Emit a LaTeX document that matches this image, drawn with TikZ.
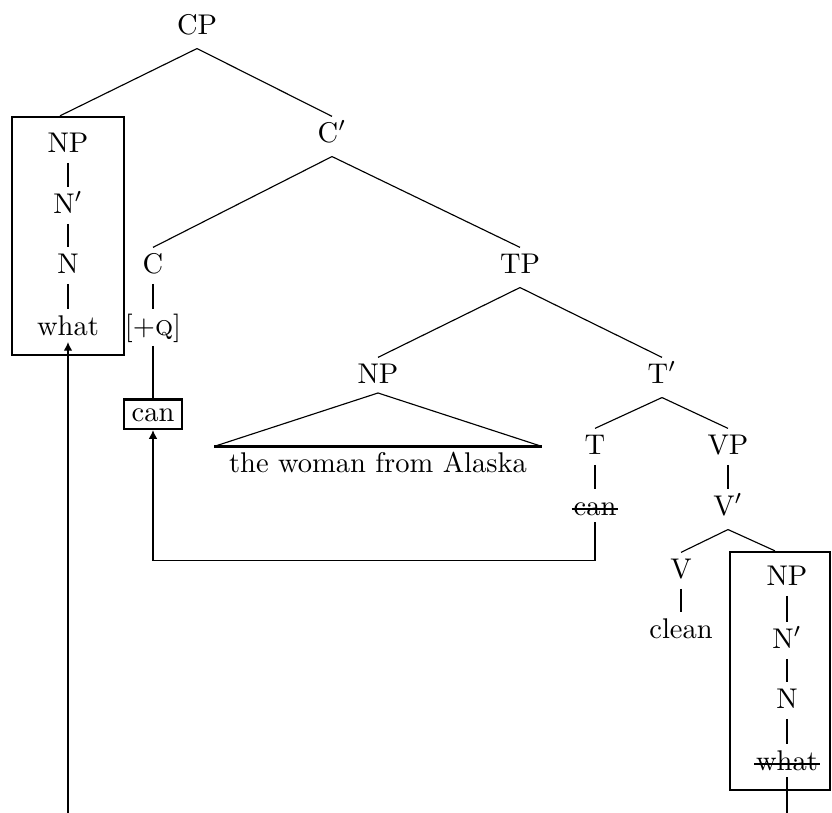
\documentclass[tikz,border=0pt]{standalone}
\usetikzlibrary{arrows.meta,fit}
\begin{document}
\begin{tikzpicture}[x=0.351pt,y=-0.351pt,
  lbl/.style={anchor=base, inner xsep=0.5pt, inner ysep=2pt, text height=6.8pt, text depth=2.9pt},
  branch/.style={line width=0.4pt},
  unary/.style={line width=0.75pt, shorten <=-1.3pt},
  frame/.style={draw, line width=0.85pt, inner sep=0pt},
  strike/.style={line width=0.7pt},
  move/.style={line width=0.38pt, -{Latex[length=3pt,width=3pt]}},
  roof/.style={line width=0.4pt},
  roofbase/.style={line width=0.9pt}]
\useasboundingbox (0,0) rectangle (832,812);
\clip (0,0) rectangle (832,812);

% top of the tree
\node[lbl] (cp) at (197,34) {CP};
\node[lbl] (cbar) at (332,142) {C$'$};

% fronted wh-phrase
\node[lbl] (np1) at (68,152) {NP};
\node[lbl] (nb1) at (68,213) {N$'$};
\node[lbl] (n1) at (68,273) {N};
\node[lbl] (what1) at (68,335) {what};
\node[frame, fit={(12,117) (124,355)}] (box1) {};

% complementizer
\node[lbl] (c) at (153,273) {C};
\node[lbl] (q) at (153,335) {[+\textsc{q}]};
\node[frame, anchor=base, inner xsep=2.6pt, inner ysep=1.3pt, text height=6.2pt, text depth=1.5pt] (can1) at (153,421) {can};

% TP
\node[lbl] (tp) at (520,273) {TP};
\node[lbl] (np2) at (378,383) {NP};
\node[lbl] (alaska) at (378,472) {the woman from Alaska};
\node[lbl] (tbar) at (662,383) {T$'$};
\node[lbl] (t) at (595,454) {T};
\node[lbl] (can2) at (595,515) {can};

% VP
\node[lbl] (vp) at (728,454) {VP};
\node[lbl] (vbar) at (728,515) {V$'$};
\node[lbl] (v) at (681,578) {V};
\node[lbl] (clean) at (681,638) {clean};
\node[lbl] (np3) at (787,585) {NP};
\node[lbl] (nb3) at (787,648) {N$'$};
\node[lbl] (n3) at (787,708) {N};
\node[lbl] (what3) at (787,770) {what};
\node[frame, fit={(730,552) (830,790)}] (box2) {};

% branching edges
\draw[branch] (cp.south) -- ([xshift=-2.8pt]box1.north);
\draw[branch] (cp.south) -- (cbar.north);
\draw[branch] (cbar.south) -- (c.north);
\draw[branch] (cbar.south) -- (tp.north);
\draw[branch] (tp.south) -- (np2.north);
\draw[branch] (tp.south) -- (tbar.north);
\draw[branch] (tbar.south) -- (t.north);
\draw[branch] (tbar.south) -- (vp.north);
\draw[branch] (vbar.south) -- (v.north);
\draw[branch] (vbar.south) -- ([xshift=-1.8pt]box2.north);

% non-branching edges
\draw[unary] (np1.south) -- (nb1.north);
\draw[unary] (nb1.south) -- (n1.north);
\draw[unary] (n1.south) -- (what1.north);
\draw[unary] (c.south) -- (q.north);
\draw[unary] (q.south) -- (can1.north);
\draw[unary] (t.south) -- (can2.north);
\draw[unary] (vp.south) -- (vbar.north);
\draw[unary] (v.south) -- (clean.north);
\draw[unary] (np3.south) -- (nb3.north);
\draw[unary] (nb3.south) -- (n3.north);
\draw[unary] (n3.south) -- (what3.north);

% roof over the subject
\coordinate (apex) at ([yshift=-3.5pt]np2.base);
\draw[roof] ([xshift=-4.5pt]alaska.north west) -- (apex) -- ([xshift=4.5pt]alaska.north east);
\draw[roofbase] ([xshift=-4.5pt]alaska.north west) -- ([xshift=4.5pt]alaska.north east);

% deleted copies
\draw[strike] ([yshift=2.1pt]can2.base west) -- ([yshift=2.1pt]can2.base east);
\draw[strike] ([yshift=2pt]what3.base west) -- ([yshift=2pt]what3.base east);

% movement
\draw[move] ([yshift=-2.5pt]can2.base) -- ++(0,38) -| (can1.south);
\draw[move] ([yshift=-2.5pt]what3.base) -- ++(0,80) -| ([yshift=-2.5pt]what1.base);
\end{tikzpicture}
\end{document}
